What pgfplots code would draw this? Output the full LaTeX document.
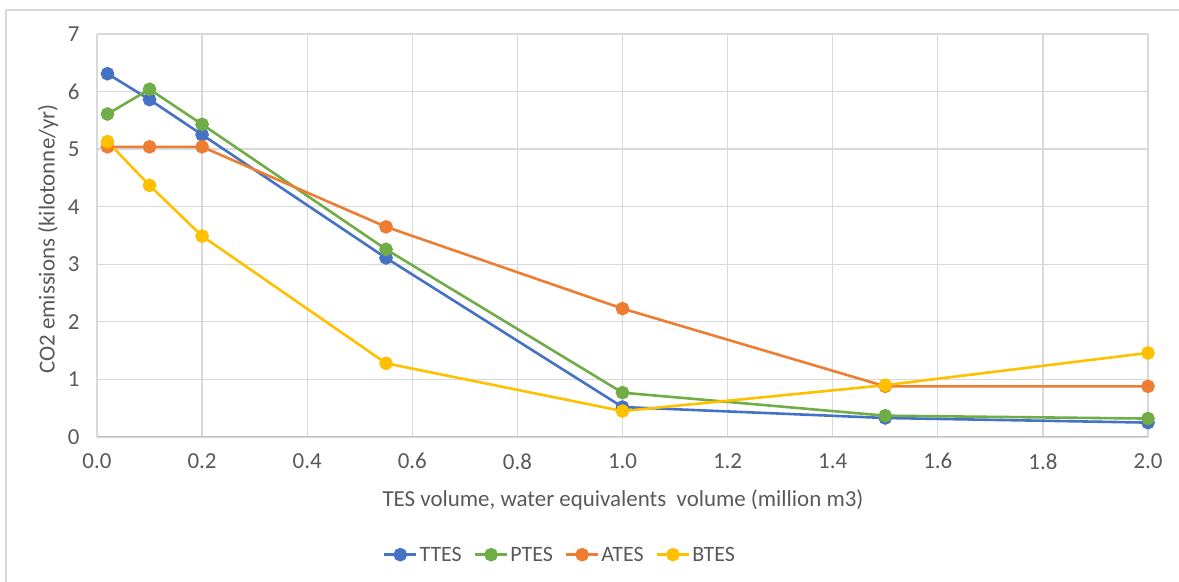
\documentclass[border=0pt]{standalone}
\usepackage{pgfplots}
\pgfplotsset{compat=1.18}
\usepackage{fontspec}
\setmainfont{Carlito}
\definecolor{txt}{HTML}{595959}
\definecolor{gridc}{HTML}{D9D9D9}
\definecolor{axc}{HTML}{BFBFBF}
\definecolor{cT}{HTML}{4472C4}
\definecolor{cP}{HTML}{70AD47}
\definecolor{cA}{HTML}{ED7D31}
\definecolor{cB}{HTML}{FFC000}
\begin{document}
\begin{tikzpicture}[x=1bp,y=1bp]
\useasboundingbox (0,0) rectangle (1179,582);
\fill[white] (0,0) rectangle (1179,582);
\draw[gridc, line width=1.5bp] (6,-5) -- (6,572) -- (1185,572);
\begin{axis}[
  at={(97bp,145bp)}, anchor=south west,
  scale only axis, width=1051bp, height=403bp,
  xmin=0, xmax=2, ymin=0, ymax=7,
  xtick={0,0.2,...,2.0}, ytick={0,1,...,7},
  xticklabel={\pgfmathprintnumber[fixed,fixed zerofill,precision=1]{\tick}},
  /pgf/number format/assume math mode=true,
  font=\fontsize{23}{28}\selectfont,
  tick label style={text=txt},
  xticklabel style={yshift=-13bp},
  yticklabel style={xshift=-14bp},
  grid=major, major grid style={gridc, line width=1.3bp},
  axis line style={draw=none},
  tick style={draw=none},
  xlabel={TES volume, water equivalents\ \ volume (million m3)},
  ylabel={CO2 emissions (kilotonne/yr)},
  label style={text=txt},
  xlabel style={at={(axis description cs:0.5005,-0.157)}, anchor=center},
  ylabel style={at={(axis description cs:-0.0466,0.491)}, anchor=center},
  legend columns=4,
  legend style={at={(axis description cs:0.4405,-0.292)}, anchor=center, draw=none, fill=none, text=txt,
    font=\fontsize{22}{26}\selectfont,
    nodes={inner xsep=2bp, inner ysep=1bp},
    /tikz/every even column/.append style={column sep=10bp}},
  legend image code/.code={\draw[mark repeat=2,mark phase=2] plot coordinates {(0bp,0bp)(16bp,0bp)(32bp,0bp)};},
  every axis plot/.append style={line width=2.6bp, mark=*, mark size=5.5bp, mark options={solid}},
]
\draw[axc, line width=1.5bp] (axis cs:0,0) -- (axis cs:2,0);
\addplot[color=cT] coordinates {(0.02,6.31) (0.1,5.86) (0.2,5.25) (0.55,3.11) (1.0,0.52) (1.5,0.33) (2.0,0.25)};
\addlegendentry{TTES}
\addplot[color=cP] coordinates {(0.02,5.61) (0.1,6.04) (0.2,5.43) (0.55,3.26) (1.0,0.77) (1.5,0.37) (2.0,0.32)};
\addlegendentry{PTES}
\addplot[color=cA] coordinates {(0.02,5.04) (0.1,5.04) (0.2,5.04) (0.55,3.65) (1.0,2.23) (1.5,0.88) (2.0,0.88)};
\addlegendentry{ATES}
\addplot[color=cB] coordinates {(0.02,5.13) (0.1,4.37) (0.2,3.49) (0.55,1.28) (1.0,0.45) (1.5,0.90) (2.0,1.46)};
\addlegendentry{BTES}
\end{axis}
\end{tikzpicture}
\end{document}
